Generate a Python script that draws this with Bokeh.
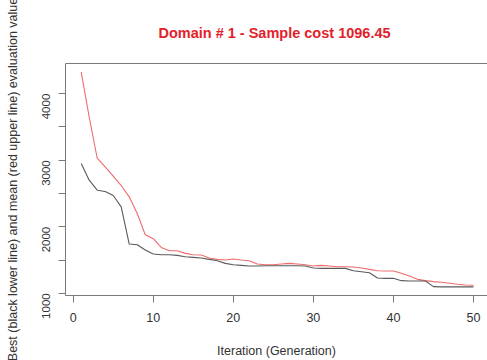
from bokeh.plotting import figure
from bokeh.models import Range1d, FixedTicker, LinearAxis, Title
from bokeh.embed import file_html
from bokeh.resources import INLINE
import math

generations = list(range(1, 51))
mean_values = [4325, 3650, 3030, 2900, 2760, 2620, 2450, 2200, 1880, 1820,
               1690, 1640, 1640, 1600, 1580, 1575, 1530, 1510, 1500, 1515,
               1500, 1490, 1440, 1430, 1430, 1440, 1450, 1440, 1430, 1410,
               1420, 1410, 1400, 1400, 1395, 1380, 1360, 1340, 1335, 1335,
               1300, 1260, 1210, 1190, 1175, 1165, 1150, 1135, 1125, 1120]
best_values = [2950, 2700, 2550, 2530, 2470, 2300, 1740, 1730, 1650, 1590,
               1580, 1580, 1570, 1550, 1540, 1530, 1510, 1490, 1450, 1430,
               1420, 1410, 1410, 1415, 1415, 1415, 1415, 1415, 1410, 1380,
               1375, 1375, 1375, 1375, 1340, 1325, 1310, 1230, 1225, 1225,
               1190, 1185, 1185, 1185, 1100, 1096, 1096, 1096, 1096, 1096]
x_ticks = [0, 10, 20, 30, 40, 50]
y_ticks = [1000, 1500, 2000, 2500, 3000, 3500, 4000]
y_tick_labels = {1000: "1000", 1500: "", 2000: "2000", 2500: "", 3000: "3000", 3500: "", 4000: "4000"}
title_text = "Domain # 1  - Sample cost 1096.45"
x_label = "Iteration (Generation)"
y_label = "Best (black lower line) and mean (red upper line) evaluation value"

FONT = "Liberation Sans"
AXIS_COLOR = "#7a7a7a"
TEXT_COLOR = "#333333"

p = figure(width=487, height=360, output_backend="svg", toolbar_location=None,
           x_range=Range1d(-0.96, 51.75), y_range=Range1d(967, 4454),
           min_border_left=65, min_border_right=0, min_border_top=63, min_border_bottom=64,
           background_fill_color="white", border_fill_color="white")
p.outline_line_color = None
p.xgrid.visible = False
p.ygrid.visible = False

p.line(generations, mean_values, line_color="#f06a6a", line_width=1.1)
p.line(generations, best_values, line_color="#5a5a5a", line_width=1.1)

xa = p.xaxis[0]
xa.ticker = FixedTicker(ticks=x_ticks)
xa.axis_label = x_label
ya = p.yaxis[0]
ya.ticker = FixedTicker(ticks=y_ticks)
ya.major_label_overrides = y_tick_labels
ya.axis_label = y_label
ya.major_label_orientation = math.pi / 2

for ax in (xa, ya):
    ax.axis_line_color = AXIS_COLOR
    ax.major_tick_line_color = AXIS_COLOR
    ax.minor_tick_line_color = None
    ax.major_tick_in = 0
    ax.major_tick_out = 7
    ax.major_label_text_font = FONT
    ax.major_label_text_font_size = "12.5px"
    ax.major_label_text_color = TEXT_COLOR
    ax.axis_label_text_font = FONT
    ax.axis_label_text_font_size = "12.5px"
    ax.axis_label_text_font_style = "normal"
    ax.axis_label_text_color = TEXT_COLOR

ya.major_label_text_font_size = "11.5px"
xa.major_label_standoff = 10
xa.axis_label_standoff = 19
ya.major_label_standoff = 12
ya.axis_label_standoff = 16

top = LinearAxis(ticker=FixedTicker(ticks=[]), axis_line_color=AXIS_COLOR,
                 major_tick_line_color=None, minor_tick_line_color=None,
                 major_label_text_font_size="0px")
p.add_layout(top, "above")

p.add_layout(Title(text=title_text, text_color="#e3212b", text_font=FONT,
                   text_font_size="14.5px", text_font_style="bold", align="center",
                   vertical_align="top", standoff=42), "above")

open("out.html", "w").write(file_html(p, INLINE))
